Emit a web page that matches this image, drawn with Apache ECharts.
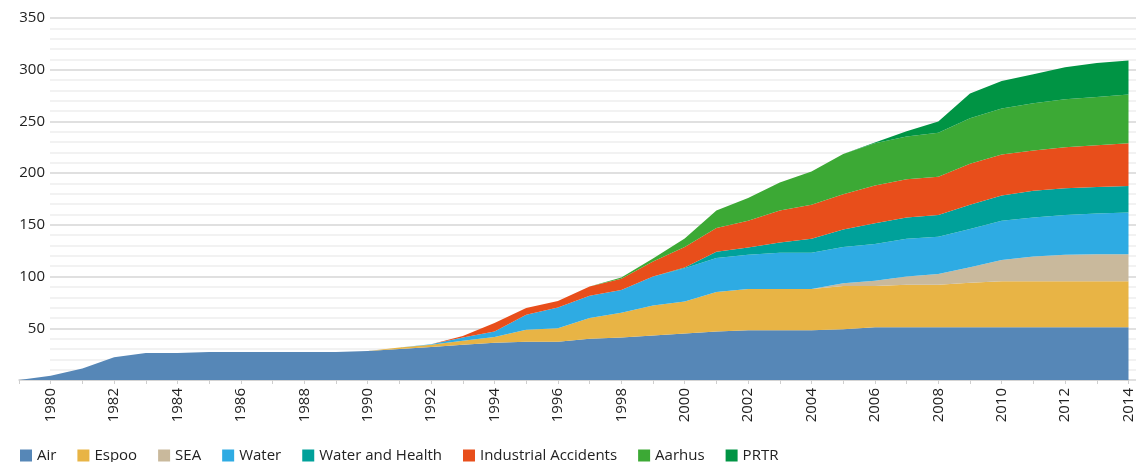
<!DOCTYPE html>
<html>
<head>
<meta charset="utf-8">
<title>MEA growth</title>
<script src="https://cdn.jsdelivr.net/npm/echarts@6/dist/echarts.min.js"></script>
<style>
html,body{margin:0;padding:0;background:#fff;}
#chart{width:1136px;height:462px;}
</style>
</head>
<body>
<div id="chart"></div>
<script>
// years 1979 - 2014
var years = [];
for (var y = 1979; y <= 2014; y++) years.push(String(y));

var seriesNames = ['Air', 'Espoo', 'SEA', 'Water', 'Water and Health', 'Industrial Accidents', 'Aarhus', 'PRTR'];
var colors = ['#5687b7', '#e8b445', '#c9b99c', '#2eabe3', '#00a19a', '#e84e1b', '#3ca935', '#009444'];

// values, one per year
var air = [0,4,11,22,26,26,27,27,27,27,27,28,30,32,34,36,37,37,40,41,43,45,47,48,48,48,49,51,51,51,51,51,51,51,51,51];
var espoo = [0,0,0,0,0,0,0,0,0,0,0,0,1.5,2,4,5.5,11.5,13,20,24,29,31,38,40,40,40,42,40,41,41,43,44.5,44.5,44.5,44.5,44.5];
var sea = [0,0,0,0,0,0,0,0,0,0,0,0,0,0,0,0,0,0,0,0,0,0,0,0,0,0,2.5,5,8,10.5,15,20.5,24,25.5,26,26];
var water = [0,0,0,0,0,0,0,0,0,0,0,0,0,0.5,3,5.5,14.5,20,21.5,22,28,32,33,33,35,35,35,35.5,36.5,36,37,38,37.5,38.5,39.5,40.5];
var waterHealth = [0,0,0,0,0,0,0,0,0,0,0,0,0,0,0,0,0,0,0,0,0,0.7,6,7,10,13.5,17,20,20.5,21,23.5,24.5,26,26,25.5,25.5];
var accidents = [0,0,0,0,0,0,0,0,0,0,0,0,0,0,1.5,8,6.5,6.5,9,11,14.5,20,23,26,31,33,34,36.5,37,37,39.5,39.5,39,39.5,40.5,41.5];
var aarhus = [0,0,0,0,0,0,0,0,0,0,0,0,0,0,0,0,0,0,0,1,3,8,17,22,27,32,39,41,41.5,42.5,44,44.5,45.5,46.5,46.5,47];
var prtr = [0,0,0,0,0,0,0,0,0,0,0,0,0,0,0,0,0,0,0,0,0,0,0,0,0,0,0,0.7,5,11,24,26.5,28,31,33,33];

var yTicks = {min: 0, max: 350, interval: 50};

var allData = [air, espoo, sea, water, waterHealth, accidents, aarhus, prtr];

var chart = echarts.init(document.getElementById('chart'));

var series = [];
for (var i = 0; i < seriesNames.length; i++) {
    series.push({
        name: seriesNames[i],
        type: 'line',
        stack: 'total',
        xAxisIndex: 0,
        yAxisIndex: 0,
        symbol: 'none',
        lineStyle: {width: 0},
        areaStyle: {color: colors[i], opacity: 1},
        itemStyle: {color: colors[i]},
        data: allData[i]
    });
}
// empty series so the gridline grid has something to hang on
series.push({type: 'line', xAxisIndex: 1, yAxisIndex: 1, data: [], silent: true});

chart.setOption({
    animation: false,
    textStyle: {fontFamily: 'Open Sans'},
    grid: [
        {left: 19, right: 3, top: 18, bottom: 82},   // areas
        {left: 50, right: 0, top: 18, bottom: 82}    // gridlines + y labels
    ],
    legend: {
        data: seriesNames,
        left: 15,
        top: 443,
        icon: 'rect',
        itemWidth: 12,
        itemHeight: 12,
        itemGap: 21,
        textStyle: {fontSize: 15, color: '#222'}
    },
    xAxis: [
        {
            type: 'category',
            gridIndex: 0,
            data: years,
            boundaryGap: false,
            axisLine: {lineStyle: {color: '#cfcfcf', width: 1.5}},
            axisTick: {show: true, interval: 0, length: 4, lineStyle: {color: '#cfcfcf'}},
            axisLabel: {
                rotate: 90,
                fontSize: 15,
                color: '#222',
                margin: 8,
                interval: function (idx) { return idx % 2 === 1; }
            },
            splitLine: {show: false}
        },
        {type: 'value', gridIndex: 1, min: 0, max: 1, show: false}
    ],
    yAxis: [
        {type: 'value', gridIndex: 0, min: yTicks.min, max: yTicks.max, interval: yTicks.interval, show: false},
        {
            type: 'value',
            gridIndex: 1,
            min: yTicks.min,
            max: yTicks.max,
            interval: yTicks.interval,
            axisLine: {show: false},
            axisTick: {show: false},
            axisLabel: {
                fontSize: 15,
                color: '#222',
                margin: 5,
                formatter: function (v) { return v === 0 ? '' : v; }
            },
            splitLine: {lineStyle: {color: '#d6d6d6', width: 1.5}},
            minorTick: {show: false, splitNumber: 5},
            minorSplitLine: {show: true, lineStyle: {color: '#eeeeee', width: 1.5}}
        }
    ],
    series: series
});
</script>
</body>
</html>
